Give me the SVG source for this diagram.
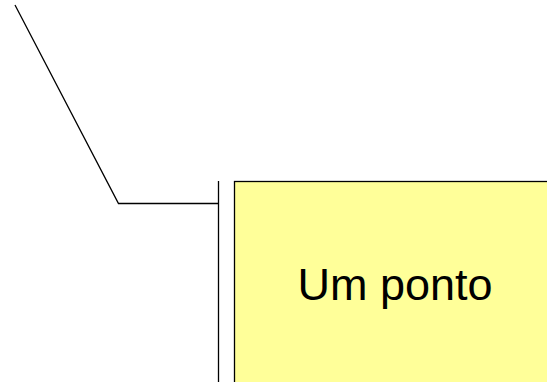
<svg xmlns="http://www.w3.org/2000/svg" width="547" height="382" viewBox="0 0 547 382">
  <style>
    .wire { fill: none; stroke: #000; stroke-width: 1.3; }
    .box { fill: #FFFF99; stroke: #000; stroke-width: 1.3; }
    .label { font-family: "Liberation Sans", Arial, sans-serif; font-size: 45px; fill: #000; }
  </style>
  <rect width="547" height="382" fill="#fff"/>
  <g id="connectors">
    <polyline class="wire" points="15,5 118.5,203.5 218.5,203.5"/>
    <line class="wire" x1="218.5" y1="181" x2="218.5" y2="382"/>
  </g>
  <g id="node-ponto">
    <rect class="box" x="234.5" y="181.5" width="322" height="210"/>
    <text class="label" x="395" y="299.5" text-anchor="middle">Um ponto</text>
  </g>
</svg>
